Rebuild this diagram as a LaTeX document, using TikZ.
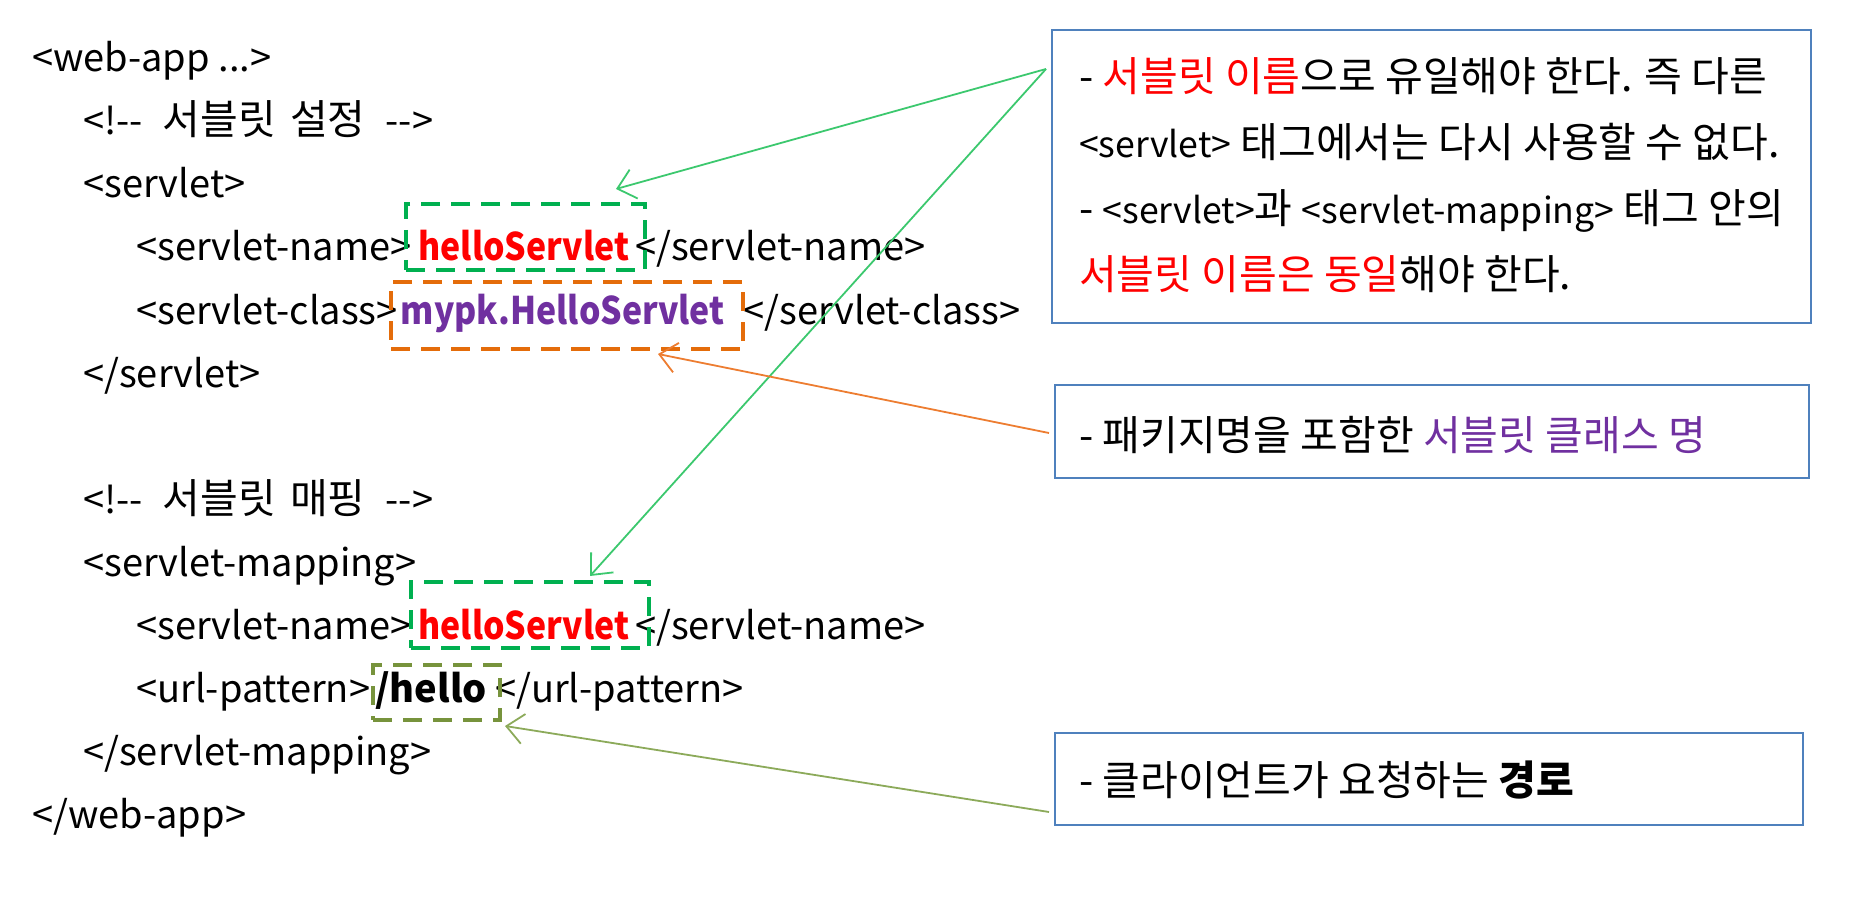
\documentclass[tikz,border=0pt]{standalone}
\usepackage{fontspec}
\setmainfont{Noto Sans CJK KR}[BoldFeatures={FakeStretch=0.89}]
\newfontfamily\krfont{Noto Sans CJK KR}[Scale=1.08]
\newfontfamily\urlfont{Noto Sans CJK KR}
\usetikzlibrary{arrows.meta}
\definecolor{boxblue}{RGB}{79,129,189}
\definecolor{nmgreen}{RGB}{0,176,80}
\definecolor{argreen}{RGB}{60,200,110}
\definecolor{clsorange}{RGB}{228,108,10}
\definecolor{arorange}{RGB}{237,125,49}
\definecolor{urlolive}{RGB}{119,147,60}
\definecolor{arolive}{RGB}{140,170,90}
\definecolor{nmred}{RGB}{255,0,0}
\definecolor{clspurple}{RGB}{112,48,160}
\newcommand{\nmtext}[1]{\textcolor{nmred}{#1}}
\newcommand{\clstext}[1]{\textcolor{clspurple}{#1}}
\newcommand{\hangul}[1]{{\krfont #1}}
\newcommand{\tagsmall}[1]{{\fontsize{33}{36}\selectfont #1}}

\begin{document}
\begin{tikzpicture}[x=1pt,y=-1pt,
    code/.style={anchor=base west,inner sep=0pt,font=\fontsize{38}{40}\selectfont},
    notetext/.style={anchor=base west,inner sep=0pt,font=\fontsize{38}{40}\selectfont\krfont},
    note/.style={draw=boxblue,line width=2pt,inner sep=0pt},
    hlbox/.style={line width=4pt,dash pattern=on 19pt off 11pt,inner sep=0pt},
    callout/.style={line width=1.8pt,-{Straight Barb[length=17pt,width=30pt]}}]
        \useasboundingbox (0,0) rectangle (1856,904);
        \node [code] (l0) at (32,72) {<web-app ...>};
        \node [code] (l1) at (83,135) {<!-{}-\hspace{20pt}\hangul{서블릿\hspace{14pt}설정}\hspace{20pt}-{}->};
        \node [code] (l2) at (83,198) {<servlet>};
        \node [code] (l3) at (136,261) {<servlet-name>\hspace{7pt}\nmtext{\bfseries helloServlet}\hspace{6pt}</servlet-name>};
        \node [code] (l4) at (136,324) {<servlet-class>\hspace{3pt}\clstext{\bfseries mypk.HelloServlet}\hspace{19pt}</servlet-class>};
        \node [code] (l5) at (83,387) {</servlet>};
        \node [code] (l7) at (83,513) {<!-{}-\hspace{20pt}\hangul{서블릿\hspace{14pt}매핑}\hspace{20pt}-{}->};
        \node [code] (l8) at (83,576) {<servlet-mapping>};
        \node [code] (l9) at (136,639) {<servlet-name>\hspace{7pt}\nmtext{\bfseries helloServlet}\hspace{6pt}</servlet-name>};
        \node [code] (l10) at (136,702) {<url-pattern>\hspace{5pt}{\urlfont\bfseries /hello}\hspace{9pt}</url-pattern>};
        \node [code] (l11) at (83,765) {</servlet-mapping>};
        \node [code] (l12) at (32,828) {</web-app>};

        \node [hlbox,draw=nmgreen,minimum width=239pt,minimum height=66pt] (nm1) at (525.5,237) {};
        \node [hlbox,draw=clsorange,minimum width=352pt,minimum height=67pt] (cls) at (567,315.5) {};
        \node [hlbox,draw=nmgreen,minimum width=238pt,minimum height=66pt] (nm2) at (530,615) {};
        \node [hlbox,draw=urlolive,minimum width=127pt,minimum height=55pt] (url) at (436.5,692.5) {};

        \node [note,minimum width=759pt,minimum height=293pt] (note1) at (1431.5,176.5) {};
        \node [note,minimum width=754pt,minimum height=93pt] (note2) at (1432,431.5) {};
        \node [note,minimum width=748pt,minimum height=92pt] (note3) at (1429,779) {};

        \node [notetext] (n1a) at (1079,92) {- \nmtext{서블릿 이름}으로 유일해야 한다. 즉 다른};
        \node [notetext] (n1b) at (1079,158) {\tagsmall{<servlet>} 태그에서는 다시 사용할 수 없다.};
        \node [notetext] (n1c) at (1079,224) {- \tagsmall{<servlet>}과 \tagsmall{<servlet-mapping>} 태그 안의};
        \node [notetext] (n1d) at (1079,290) {\nmtext{서블릿 이름은 동일}해야 한다.};
        \node [notetext] (n2) at (1079,450) {- 패키지명을 포함한 \clstext{서블릿 클래스 명}};
        \node [notetext] (n3) at (1079,795) {- 클라이언트가 요청하는 {\bfseries 경로}};

        \draw [callout,argreen] ([shift={(-5,40)}]note1.north west) -- ([shift={(-31,-13)}]nm1.north east);
        \draw [callout,argreen] ([shift={(-5,40)}]note1.north west) -- ([shift={(-61,-4)}]nm2.north east);
        \draw [callout,arorange] ([shift={(-5,1.5)}]note2.west) -- ([shift={(-87,3)}]cls.south east);
        \draw [callout,arolive] ([shift={(-5,33)}]note3.west) -- ([shift={(3,4)}]url.south east);
\end{tikzpicture}
\end{document}
